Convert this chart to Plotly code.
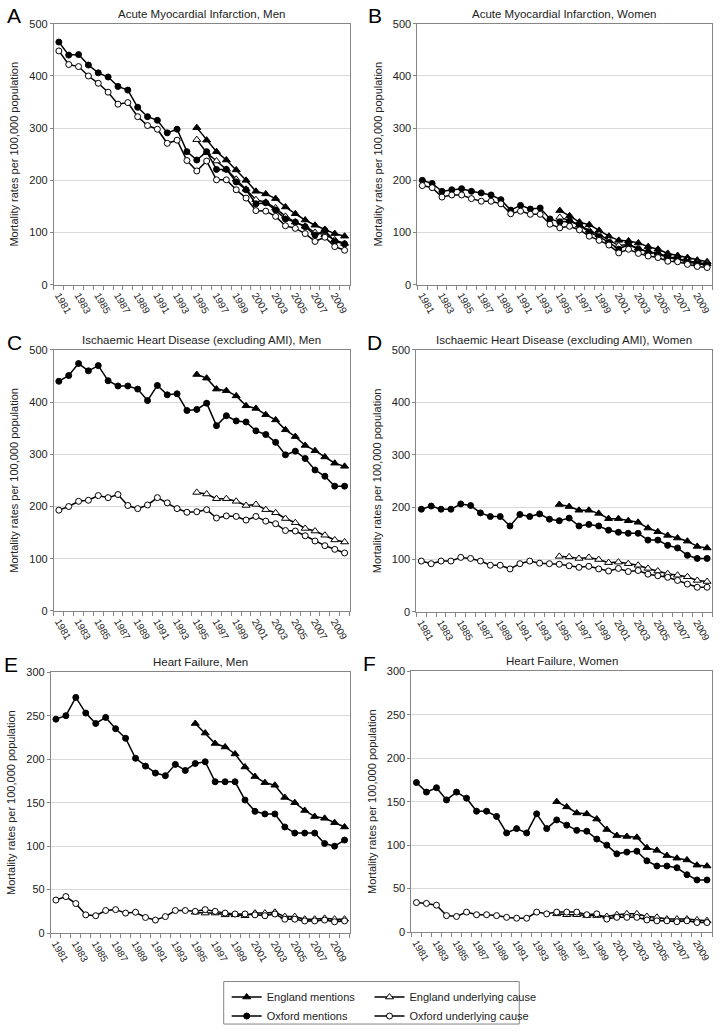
import plotly.graph_objects as go

years = list(range(1981, 2011))
eng_years = list(range(1995, 2011))
tick_years = list(range(1981, 2010, 2))

# Panel A: Acute Myocardial Infarction, Men
a_eng_mentions = [301, 277, 255, 239, 220, 200, 179, 174, 165, 149, 136, 124, 114, 106, 98, 93]
a_eng_underlying = [278, 253, 237, 221, 202, 183, 163, 158, 147, 131, 120, 112, 100, 96, 86, 79]
a_ox_mentions = [465, 440, 441, 421, 406, 398, 380, 373, 340, 322, 315, 291, 298, 255, 239,
                 255, 221, 221, 197, 182, 155, 157, 143, 126, 120, 111, 95, 104, 83, 78]
a_ox_underlying = [448, 422, 418, 400, 386, 369, 346, 349, 322, 305, 298, 271, 277, 238, 218,
                   237, 201, 201, 182, 166, 142, 141, 131, 113, 108, 98, 83, 91, 73, 66]

# Panel B: Acute Myocardial Infarction, Women
b_eng_mentions = [142, 132, 120, 115, 104, 93, 85, 84, 80, 73, 68, 60, 56, 52, 47, 44]
b_eng_underlying = [129, 123, 114, 104, 96, 85, 75, 77, 70, 63, 60, 54, 50, 46, 42, 40]
b_ox_mentions = [200, 194, 179, 182, 184, 179, 176, 172, 163, 143, 152, 145, 147, 126, 120,
                 122, 114, 101, 92, 81, 68, 77, 68, 63, 59, 52, 49, 43, 40, 38]
b_ox_underlying = [190, 186, 168, 172, 172, 165, 160, 160, 155, 136, 141, 135, 135, 116, 109,
                   112, 105, 93, 85, 76, 61, 68, 60, 55, 52, 45, 44, 39, 35, 33]

# Panel C: Ischaemic Heart Disease (excluding AMI), Men
c_eng_mentions = [453, 446, 425, 422, 412, 393, 388, 376, 366, 347, 334, 317, 307, 295, 283, 277]
c_eng_underlying = [227, 224, 215, 215, 210, 202, 204, 194, 188, 177, 169, 158, 153, 145, 136, 132]
c_ox_mentions = [440, 451, 474, 460, 470, 441, 431, 431, 425, 403, 432, 414, 416, 384, 386,
                 398, 355, 374, 364, 362, 345, 338, 323, 299, 306, 292, 270, 258, 239, 239]
c_ox_underlying = [193, 200, 210, 212, 221, 217, 223, 202, 196, 203, 217, 207, 196, 189, 190,
                   194, 178, 182, 181, 174, 181, 172, 167, 154, 153, 144, 134, 125, 118, 111]

# Panel D: Ischaemic Heart Disease (excluding AMI), Women
d_eng_mentions = [205, 201, 194, 194, 188, 178, 178, 174, 171, 160, 153, 146, 141, 135, 125, 122]
d_eng_underlying = [106, 105, 102, 104, 100, 94, 95, 92, 89, 83, 78, 73, 70, 67, 60, 58]
d_ox_mentions = [196, 202, 196, 196, 206, 203, 189, 182, 182, 164, 186, 182, 187, 177, 174,
                 179, 164, 167, 164, 156, 152, 150, 150, 137, 137, 127, 122, 108, 102, 102]
d_ox_underlying = [97, 92, 97, 97, 104, 102, 97, 89, 89, 82, 92, 97, 93, 92, 91,
                   88, 85, 87, 82, 78, 83, 77, 79, 72, 69, 66, 60, 53, 47, 47]

# Panel E: Heart Failure, Men
e_eng_mentions = [241, 230, 218, 214, 206, 191, 180, 173, 170, 156, 150, 141, 134, 132, 127, 122]
e_eng_underlying = [24, 23, 23, 21, 21, 20, 23, 23, 24, 19, 19, 16, 16, 17, 16, 16]
e_ox_mentions = [246, 250, 271, 253, 241, 248, 235, 224, 201, 192, 184, 181, 194, 187, 195,
                 197, 174, 174, 174, 153, 140, 137, 137, 122, 115, 115, 115, 103, 100, 107]
e_ox_underlying = [38, 42, 34, 21, 20, 26, 27, 23, 24, 18, 15, 19, 26, 26, 25,
                   27, 25, 23, 22, 22, 21, 20, 22, 16, 16, 14, 14, 15, 13, 14]

# Panel F: Heart Failure, Women
f_eng_mentions = [150, 144, 137, 136, 130, 118, 111, 110, 109, 97, 94, 88, 85, 83, 77, 76]
f_eng_underlying = [21, 20, 20, 19, 19, 18, 20, 21, 21, 18, 17, 15, 15, 15, 14, 13]
f_ox_mentions = [172, 161, 166, 152, 161, 154, 139, 139, 133, 114, 119, 114, 136, 119, 129,
                 123, 117, 116, 107, 100, 90, 92, 93, 82, 76, 76, 74, 66, 60, 60]
f_ox_underlying = [34, 33, 31, 19, 18, 23, 20, 20, 19, 17, 16, 16, 23, 21, 23,
                   23, 23, 20, 21, 15, 17, 17, 17, 14, 13, 13, 12, 13, 11, 11]

panels = [
    ("A", "Acute Myocardial Infarction, Men", 500, 100,
     a_eng_mentions, a_eng_underlying, a_ox_mentions, a_ox_underlying),
    ("B", "Acute Myocardial Infarction, Women", 500, 100,
     b_eng_mentions, b_eng_underlying, b_ox_mentions, b_ox_underlying),
    ("C", "Ischaemic Heart Disease (excluding AMI), Men", 500, 100,
     c_eng_mentions, c_eng_underlying, c_ox_mentions, c_ox_underlying),
    ("D", "Ischaemic Heart Disease (excluding AMI), Women", 500, 100,
     d_eng_mentions, d_eng_underlying, d_ox_mentions, d_ox_underlying),
    ("E", "Heart Failure, Men", 300, 50,
     e_eng_mentions, e_eng_underlying, e_ox_mentions, e_ox_underlying),
    ("F", "Heart Failure, Women", 300, 50,
     f_eng_mentions, f_eng_underlying, f_ox_mentions, f_ox_underlying),
]

W, H = 720, 1034
# plot-area pixel boxes (left, right, top, bottom)
boxes = [
    (53, 349, 18, 282), (417, 712, 18, 282),
    (53, 349, 348, 612), (416, 712, 348, 613),
    (50, 349, 674, 938), (411, 712, 673, 937),
]

FONT = "Liberation Sans, Arial, sans-serif"
fig = go.Figure()
layout = {}
annotations = []
boundaries = [y - 0.5 for y in years] + [years[-1] + 0.5]

series_styles = [
    ("England mentions", "triangle-up", "black", "legend"),
    ("England underlying cause", "triangle-up", "white", "legend2"),
    ("Oxford mentions", "circle", "black", "legend"),
    ("Oxford underlying cause", "circle", "white", "legend2"),
]

for i, (letter, title, ymax, dtick, em, eu, om, ou) in enumerate(panels):
    n = i + 1
    xa = "x" if n == 1 else f"x{n}"
    ya = "y" if n == 1 else f"y{n}"
    l, r, t, b = boxes[i]
    data = [(eng_years, em), (eng_years, eu), (years, om), (years, ou)]
    for (name, sym, fill, lg), (xs, ys) in zip(series_styles, data):
        fig.add_trace(go.Scatter(
            x=xs, y=ys, mode="lines+markers", name=name,
            line=dict(color="black", width=1.5),
            marker=dict(symbol=sym, size=6 if sym == "circle" else 7, color=fill,
                        line=dict(color="black", width=1)),
            xaxis=xa, yaxis=ya, showlegend=(n == 1), legend=lg,
        ))
    layout[f"xaxis{'' if n == 1 else n}"] = dict(
        domain=[l / W, r / W], anchor=ya,
        range=[years[0] - 0.5, years[-1] + 0.5],
        tickmode="array", tickvals=tick_years, ticktext=[str(y) for y in tick_years],
        tickangle=60, ticks="", ticklen=0,
        tickfont=dict(family=FONT, size=10, color="#222"),
        showgrid=False, zeroline=False,
        showline=True, linecolor="#868686", linewidth=1, mirror=True,
        minor=dict(tickmode="array", tickvals=boundaries, ticks="outside",
                   ticklen=4, tickcolor="#868686", showgrid=False),
    )
    layout[f"yaxis{'' if n == 1 else n}"] = dict(
        domain=[1 - b / H, 1 - t / H], anchor=xa,
        range=[0, ymax], dtick=dtick, tick0=0,
        ticks="outside", ticklen=3, tickcolor="#868686",
        tickfont=dict(family=FONT, size=11, color="#222"),
        showgrid=True, gridcolor="#d9d9d9", gridwidth=1, zeroline=False,
        showline=True, linecolor="#868686", linewidth=1, mirror=True,
        title=dict(text="Mortality rates per 100,000 population",
                   font=dict(family=FONT, size=11, color="#222"), standoff=8),
    )
    annotations.append(dict(
        text=title, xref="paper", yref="paper",
        x=((l + r) / 2) / W, y=1 - (t - 2) / H, xanchor="center", yanchor="bottom",
        showarrow=False, font=dict(family=FONT, size=11.5, color="#222"),
    ))
    annotations.append(dict(
        text=letter, xref="paper", yref="paper",
        x=(l - 49) / W if n % 2 == 1 else (l - 51) / W, y=1 - (t - 8) / H,
        xanchor="left", yanchor="middle",
        showarrow=False, font=dict(family=FONT, size=21, color="black"),
    ))

fig.update_layout(**layout)
fig.update_layout(
    width=W, height=H,
    margin=dict(l=0, r=0, t=0, b=0),
    paper_bgcolor="white", plot_bgcolor="white",
    annotations=annotations,
    legend=dict(x=226 / W, y=1 - 988 / H, xanchor="left", yanchor="top",
                orientation="v", bgcolor="rgba(0,0,0,0)", borderwidth=0,
                font=dict(family=FONT, size=11, color="#222"),
                tracegroupgap=0, itemwidth=30),
    legend2=dict(x=369 / W, y=1 - 988 / H, xanchor="left", yanchor="top",
                 orientation="v", bgcolor="rgba(0,0,0,0)", borderwidth=0,
                 font=dict(family=FONT, size=11, color="#222"),
                 tracegroupgap=0, itemwidth=30),
    shapes=[dict(type="rect", xref="paper", yref="paper",
                 x0=223 / W, x1=519 / W, y0=1 - 1030 / H, y1=1 - 987 / H,
                 line=dict(color="#868686", width=1), fillcolor="rgba(0,0,0,0)")],
    showlegend=True,
)

fig.write_html(
    "out.html",
    config={"displayModeBar": False},
    post_script="document.body.style.margin='0';document.body.style.overflow='hidden';",
)
